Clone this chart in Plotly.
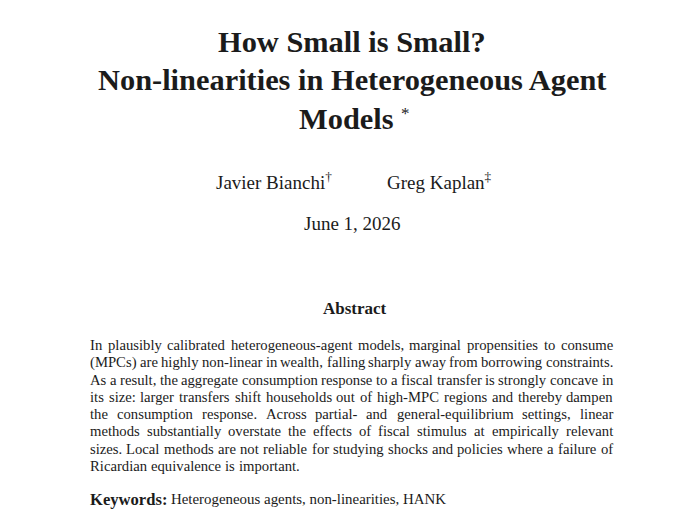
import plotly.graph_objects as go

# Texte de la page
titre = ["How Small is Small?", "Non-linearities in Heterogeneous Agent", "Models"]
appel_titre = "*"
auteurs = ["Javier Bianchi<sup>†</sup>", "Greg Kaplan<sup>‡</sup>"]
date = "June 1, 2026"
resume_titre = "Abstract"
resume = [
    "In plausibly calibrated heterogeneous-agent models, marginal propensities to consume",
    "(MPCs) are highly non-linear in wealth, falling sharply away from borrowing constraints.",
    "As a result, the aggregate consumption response to a fiscal transfer is strongly concave in",
    "its size: larger transfers shift households out of high-MPC regions and thereby dampen",
    "the consumption response.  Across partial- and general-equilibrium settings, linear",
    "methods substantially overstate the effects of fiscal stimulus at empirically relevant",
    "sizes. Local methods are not reliable for studying shocks and policies where a failure of",
    "Ricardian equivalence is important.",
]
mots_cles_titre = "Keywords:"
mots_cles = "Heterogeneous agents, non-linearities, HANK"

W, H = 680, 514
DECAL = 8  # marge du body html
police = "Liberation Serif"
encre = "#1b1b1b"

# largeurs approx. des glyphes (Times / Liberation Serif, pour 1000 unites)
chasse = {" ": 250, ".": 250, ",": 250, ":": 278, ";": 278, "-": 333, "(": 333, ")": 333}
chasse.update(dict(zip("abcdefghijklmnopqrstuvwxyz",
                       [444, 500, 444, 500, 444, 333, 500, 500, 278, 278, 500, 278, 778,
                        500, 500, 500, 500, 333, 389, 278, 500, 500, 722, 500, 500, 444])))
chasse.update(dict(zip("ABCDEFGHIJKLMNOPQRSTUVWXYZ",
                       [722, 667, 667, 722, 611, 556, 722, 722, 333, 389, 722, 611, 889,
                        722, 722, 556, 722, 667, 556, 611, 722, 722, 944, 722, 722, 611])))

def largeur(mot, taille):
    return sum(chasse.get(c, 500) for c in mot) * taille / 1000

def px_x(x):
    return (x - DECAL) / W

def px_y(y):
    return 1 - (y - DECAL) / H

annots = []

def texte(x, y, t, taille, ancre="center", gras=False):
    if gras:
        t = "<b>" + t + "</b>"
    annots.append(dict(x=px_x(x), y=px_y(y), text=t, xanchor=ancre, yanchor="middle",
                       xref="paper", yref="paper", showarrow=False,
                       font=dict(family=police, size=taille, color=encre)))

# Titre
texte(352, 42, titre[0], 30.4, gras=True)
texte(352, 80.5, titre[1], 30.4, gras=True)
texte(346, 119, titre[2], 30.4, gras=True)
texte(405, 114, appel_titre, 17)

# Auteurs et date
texte(214, 181, auteurs[0], 19, ancre="left")
texte(385, 181, auteurs[1], 19, ancre="left")
texte(352, 223, date, 19)

# Résumé (texte justifie mot par mot)
texte(355, 308, resume_titre, 17, gras=True)
taille = 14.7
g, d = 88, 611
for i, ligne in enumerate(resume):
    y = 345 + 17.25 * i
    mots = ligne.split()
    larg = [largeur(m, taille) for m in mots]
    if i == len(resume) - 1:
        espace = largeur(" ", taille) + 0.3
    else:
        espace = (d - g - sum(larg)) / (len(mots) - 1)
    x = g
    for m, l in zip(mots, larg):
        texte(x, y, m, taille, ancre="left")
        x += l + espace

texte(88, 499, mots_cles_titre, 16.6, ancre="left", gras=True)
texte(169, 499, mots_cles, 14.9, ancre="left")

fig = go.Figure()
fig.update_layout(
    width=W, height=H,
    margin=dict(l=0, r=0, t=0, b=0),
    paper_bgcolor="white", plot_bgcolor="white",
    xaxis=dict(visible=False, range=[0, 1]),
    yaxis=dict(visible=False, range=[0, 1]),
    annotations=annots,
    showlegend=False,
)
fig.write_html("out.html")
